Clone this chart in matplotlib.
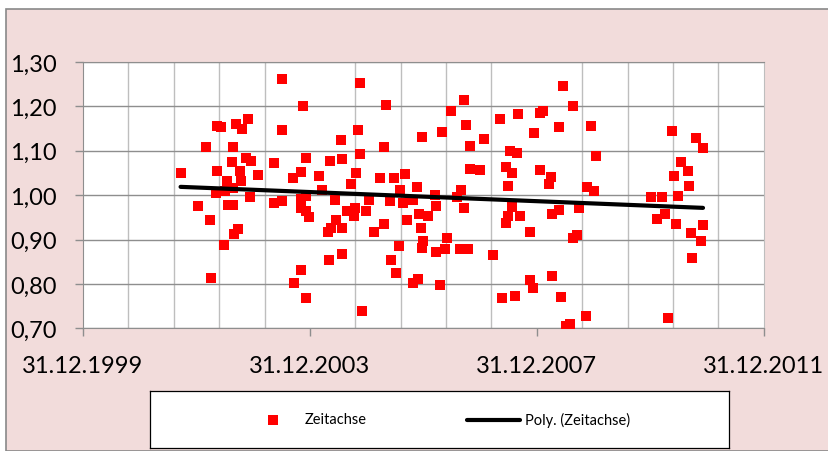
import numpy as np
import pandas as pd
import matplotlib
matplotlib.use('Agg')
import matplotlib.pyplot as plt
import matplotlib.dates as mdates
from matplotlib.patches import Rectangle
from matplotlib.ticker import FixedLocator, FuncFormatter

plt.rcParams['font.family'] = ['Lato', 'DejaVu Sans']

# Zeitpunkte als Dezimaljahr (2000.0 = 31.12.1999) und Messwerte
jahr = [2001.72, 2002.02, 2002.17, 2002.24, 2002.25, 2002.37, 2002.43, 2002.37, 2002.34, 2002.48,
        2002.54, 2002.51, 2002.55, 2002.65, 2002.64, 2002.63, 2002.70, 2002.80, 2002.90, 2002.76,
        2002.79, 2002.65, 2002.73, 2002.66, 2002.87, 2002.96, 2002.94, 2003.08, 2003.36, 2003.50,
        2003.51, 2003.88, 2003.94, 2003.71, 2003.84, 2003.36, 2003.50, 2003.85, 2003.94, 2003.85,
        2003.94, 2003.99, 2003.85, 2003.72, 2003.94,
        2004.88, 2005.35, 2004.85, 2004.54, 2005.30, 2005.98, 2006.32, 2004.36, 2004.57, 2004.89,
        2004.16, 2004.82, 2004.73, 2005.24, 2005.49, 2005.68, 2005.88, 2005.58, 2004.21, 2004.45,
        2005.05, 2005.42, 2005.65, 2005.82, 2006.21, 2006.23, 2004.65, 2004.80, 2004.77, 2004.99,
        2004.46, 2004.38, 2004.32, 2004.56, 2005.13, 2005.31, 2005.71, 2005.93, 2006.08, 2005.95,
        2005.99, 2005.97, 2006.22, 2005.57, 2004.57, 2004.34, 2005.43, 2005.52, 2005.82, 2005.91,
        2006.30, 2004.92, 2006.42,
        2008.46, 2006.71, 2008.64, 2006.49, 2007.35, 2007.67, 2008.05, 2008.11, 2006.76, 2008.39,
        2007.07, 2007.95, 2006.82, 2007.53, 2007.65, 2006.83, 2007.00, 2007.46, 2007.56, 2008.06,
        2008.25, 2008.22, 2007.49, 2006.66, 2006.59, 2006.71, 2007.56, 2007.70, 2007.49, 2007.46,
        2008.26, 2008.40, 2007.88, 2006.38, 2006.64, 2006.78, 2007.23, 2008.64, 2008.70, 2007.88,
        2007.94, 2008.26, 2007.38, 2007.62, 2008.42, 2008.52, 2008.58, 2008.74,
        2008.95, 2009.05, 2008.89, 2009.01, 2008.87, 2010.39, 2010.81, 2010.93, 2010.55, 2010.67,
        2010.42, 2010.68, 2010.02, 2010.20, 2010.49, 2010.26, 2010.12, 2010.46, 2010.72, 2010.93,
        2010.90, 2010.74, 2010.31]
wert = [1.050, 0.976, 1.108, 0.945, 0.814, 1.156, 1.154, 1.054, 1.004, 0.888,
        1.033, 1.010, 0.978, 0.978, 1.108, 1.075, 1.161, 1.148, 1.171, 1.055,
        1.032, 1.015, 0.924, 0.912, 1.083, 1.076, 0.996, 1.046, 1.073, 1.261,
        1.147, 1.201, 1.084, 1.039, 1.052, 0.983, 0.987, 0.991, 0.997, 0.972,
        0.965, 0.950, 0.832, 0.803, 0.768,
        1.252, 1.204, 1.147, 1.124, 1.108, 1.130, 1.143, 1.077, 1.081, 1.093,
        1.044, 1.049, 1.025, 1.039, 1.039, 1.048, 1.018, 1.012, 1.012, 0.988,
        0.990, 0.987, 0.982, 0.990, 1.000, 0.976, 0.965, 0.972, 0.952, 0.965,
        0.944, 0.927, 0.916, 0.927, 0.918, 0.936, 0.944, 0.957, 0.954, 0.926,
        0.896, 0.882, 0.873, 0.886, 0.867, 0.853, 0.854, 0.824, 0.801, 0.811,
        0.798, 0.738, 0.903,
        1.246, 1.215, 1.200, 1.190, 1.171, 1.183, 1.184, 1.190, 1.158, 1.153,
        1.127, 1.141, 1.110, 1.099, 1.096, 1.059, 1.057, 1.063, 1.050, 1.056,
        1.042, 1.024, 1.021, 1.011, 0.996, 0.971, 0.974, 0.952, 0.952, 0.938,
        0.957, 0.967, 0.918, 0.878, 0.878, 0.878, 0.865, 0.903, 0.911, 0.809,
        0.791, 0.818, 0.768, 0.773, 0.771, 0.706, 0.710, 0.972,
        1.156, 1.088, 1.018, 1.010, 0.728, 1.144, 1.128, 1.106, 1.074, 1.055,
        1.043, 1.020, 0.995, 0.996, 0.998, 0.957, 0.946, 0.936, 0.915, 0.933,
        0.897, 0.858, 0.723]

start = pd.Timestamp('1999-12-31')
datum = start + pd.to_timedelta((np.array(jahr) - 2000) * 365.25, unit='D')
t = mdates.date2num(datum)
t0 = mdates.date2num(start)

fig = plt.figure(figsize=(8.29, 4.52), dpi=100)
bg = Rectangle((6/829, 0), 1.1, 442/452, transform=fig.transFigure,
               facecolor='#F2DCDB', edgecolor='#898989', lw=1.2, zorder=-10)
fig.add_artist(bg)

ax = fig.add_axes([83/829, 122.7/452, 680.7/829, 266.3/452])
ax.set_facecolor('white')

ax.plot(t, wert, 's', color='#FF0000', markersize=7.2, markeredgewidth=0, zorder=3)

# Trendlinie
k = np.polyfit(t - t0, wert, 1)
tt = np.linspace(t.min(), t.max(), 200)
ax.plot(tt, np.polyval(k, tt - t0), color='black', lw=3, solid_capstyle='round', zorder=4)

ax.set_xlim(t0, t0 + 4383)
ax.set_ylim(0.70, 1.30)
ax.xaxis.set_major_locator(FixedLocator([t0 + i * 1461 for i in range(4)]))
ax.xaxis.set_minor_locator(FixedLocator([t0 + i * 1461 / 5 for i in range(16)]))
ax.xaxis.set_major_formatter(mdates.DateFormatter('%d.%m.%Y'))
ax.set_yticks(np.arange(0.70, 1.301, 0.10))
ax.yaxis.set_major_formatter(FuncFormatter(lambda v, p: f'{v:.2f}'.replace('.', ',')))

ax.grid(axis='x', which='minor', color='#BEBEBE', lw=1.0, zorder=1)
ax.grid(axis='y', which='major', color='#8E8E8E', lw=1.0, zorder=1)
ax.set_axisbelow(True)
ax.tick_params(axis='x', which='minor', length=0)
ax.tick_params(axis='x', which='major', length=6, width=1, color='#8E8E8E', pad=13, labelsize=17)
ax.tick_params(axis='y', length=6, width=1, color='#8E8E8E', pad=13, labelsize=17)
for s in ['left', 'bottom', 'top']:
    ax.spines[s].set_color('#8E8E8E')
ax.spines['right'].set_color('#BEBEBE')

# Legende
lax = fig.add_axes([150/829, 3/452, 579/829, 57.3/452])
lax.set_xlim(0, 579)
lax.set_ylim(0, 57.3)
lax.set_xticks([])
lax.set_yticks([])
for s in lax.spines.values():
    s.set_color('black')
    s.set_linewidth(0.9)
lax.plot([123], [28.5], 's', color='#FF0000', markersize=7.2, markeredgewidth=0)
lax.text(155, 28.5, 'Zeitachse', fontsize=10.5, va='center')
lax.plot([317, 370], [28.5, 28.5], color='black', lw=3, solid_capstyle='round')
lax.text(375, 28.5, 'Poly. (Zeitachse)', fontsize=10.5, va='center')

fig.savefig('out.png', dpi=100)
